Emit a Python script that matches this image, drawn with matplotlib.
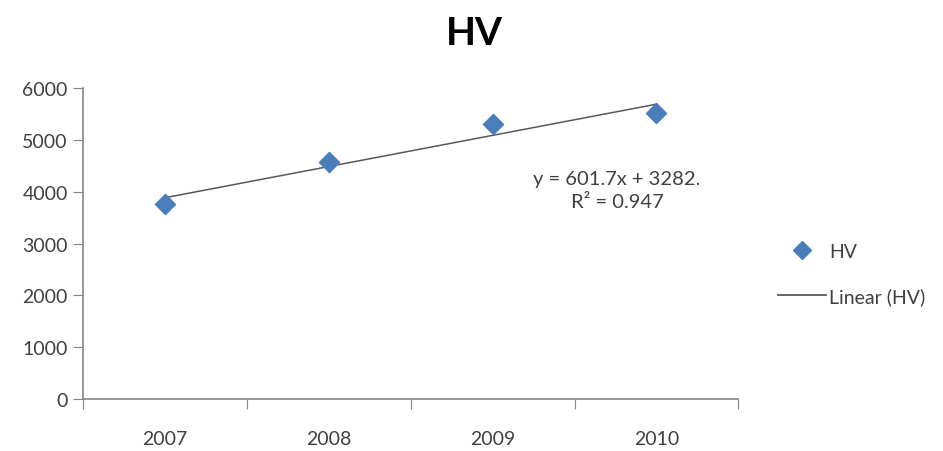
import numpy as np
import matplotlib.pyplot as plt
from matplotlib.lines import Line2D

years = ['2007', '2008', '2009', '2010']
hv = [3760, 4570, 5310, 5520]
slope, intercept = 601.7, 3282.0
eq_text = 'y = 601.7x + 3282.\nR² = 0.947'

plt.rcParams['font.family'] = ['Lato', 'DejaVu Sans']

fig = plt.figure(figsize=(9.43, 4.52), dpi=100)
ax = fig.add_axes([0.088, 0.115, 0.695, 0.688])

x = np.arange(1, len(years) + 1)
ax.plot(x, slope * x + intercept, color='#595959', lw=1.1, zorder=2)
ax.scatter(x, hv, marker='D', s=105, color='#4a7ebb', zorder=3)

ax.set_xlim(0.5, 4.5)
ax.set_ylim(0, 6000)
ax.set_yticks(range(0, 6001, 1000))
ax.set_xticks(np.arange(0.5, 4.6, 1))
ax.set_xticklabels([])
ax.set_xticks(x, minor=True)
ax.set_xticklabels(years, minor=True)
ax.tick_params(axis='x', which='minor', length=0, pad=22, labelsize=14, labelcolor='#404040')
ax.tick_params(axis='x', which='major', length=7, color='#868686', direction='out')
ax.tick_params(axis='y', length=7, color='#868686', labelsize=14, labelcolor='#404040', pad=4)

for s in ['top', 'right']:
    ax.spines[s].set_visible(False)
for s in ['left', 'bottom']:
    ax.spines[s].set_color('#868686')
    ax.spines[s].set_linewidth(1.2)

ax.text(3.76, 4030, eq_text, ha='center', va='center', fontsize=14.5,
        color='#404040', linespacing=1.4)

fig.suptitle('HV', fontsize=28, fontweight='bold', x=0.503, y=0.965)

handles = [Line2D([], [], marker='D', ls='none', color='#4a7ebb', markersize=9),
           Line2D([], [], color='#595959', lw=1.3)]
fig.legend(handles, ['HV', 'Linear (HV)'], loc='center left', bbox_to_anchor=(0.806, 0.392),
           frameon=False, fontsize=14, labelcolor='#404040', handlelength=2.5,
           handletextpad=0.15, labelspacing=1.4)

fig.savefig('out.png', dpi=100, facecolor='white')
